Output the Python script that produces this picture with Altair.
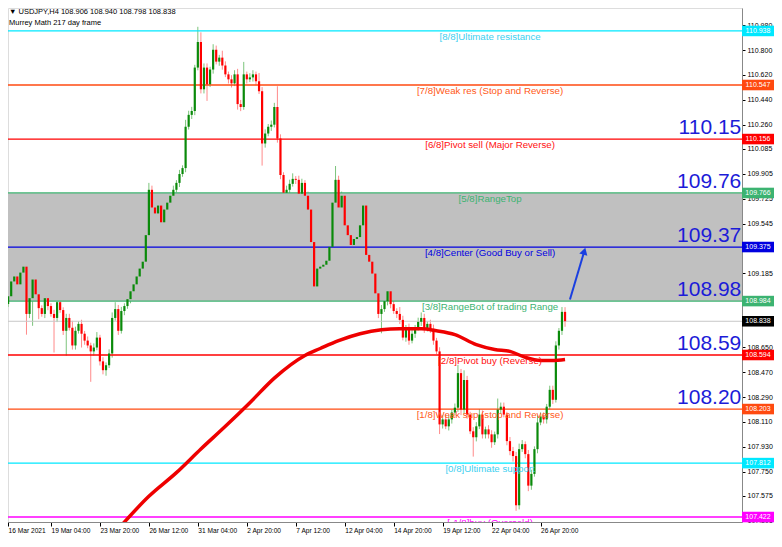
import altair as alt
import pandas as pd

# ---------------- data ----------------
first_open = 109.219
closes = [
    108.805,108.962,109.019,109.126,109.162,109.105,109.190,109.233,108.891,109.005,
    109.140,109.033,108.933,108.891,109.005,108.948,108.891,108.862,108.976,108.919,
    108.769,108.862,108.791,108.663,108.769,108.819,108.748,108.698,108.663,108.620,
    108.648,108.720,108.548,108.484,108.520,108.605,108.862,108.926,108.769,108.912,
    108.948,108.998,109.055,109.105,109.162,109.219,109.269,109.461,109.789,109.661,
    109.618,109.675,109.554,109.646,109.696,109.746,109.789,109.839,109.903,109.946,
    110.245,110.331,110.359,110.673,110.858,110.516,110.673,110.552,110.659,110.802,
    110.716,110.745,110.688,110.624,110.588,110.559,110.624,110.409,110.388,110.624,
    110.588,110.602,110.624,110.574,110.502,110.124,110.196,110.245,110.260,110.388,
    110.160,109.896,109.768,109.789,109.832,109.868,109.861,109.761,109.839,109.746,
    109.646,109.411,109.090,109.219,109.233,109.247,109.276,109.376,109.696,109.861,
    109.661,109.746,109.532,109.461,109.390,109.433,109.447,109.532,109.675,109.318,
    109.269,109.183,109.040,108.891,108.926,108.983,109.055,108.962,108.912,108.891,
    108.848,108.720,108.791,108.698,108.748,108.791,108.834,108.862,108.784,108.819,
    108.784,108.698,108.620,108.092,108.128,108.078,108.128,108.178,108.213,108.463,
    108.199,108.413,108.163,108.042,107.999,108.078,108.163,108.020,108.056,108.020,
    107.963,108.020,108.199,108.220,108.163,107.971,107.899,107.863,107.507,107.913,
    107.949,107.877,107.649,107.734,107.913,108.106,108.149,108.128,108.220,108.342,
    108.270,108.663,108.769,108.906,108.838,
]
up_wick = [
    0.03,0.02,0.03,0.03,0.02,0.04,0.03,0.09,0.03,0.03,
    0.03,0.14,0.03,0.02,0.04,0.03,0.02,0.03,0.04,0.03,
    0.02,0.03,0.03,0.05,0.03,0.02,0.03,0.02,0.03,0.02,
    0.03,0.04,0.02,0.03,0.02,0.03,0.04,0.05,0.03,0.03,
    0.02,0.03,0.02,0.03,0.02,0.03,0.03,0.02,0.05,0.03,
    0.02,0.03,0.03,0.02,0.03,0.02,0.03,0.02,0.03,0.02,
    0.05,0.03,0.03,0.02,0.11,0.07,0.03,0.03,0.02,0.04,
    0.03,0.02,0.05,0.03,0.02,0.03,0.03,0.04,0.03,0.09,
    0.02,0.03,0.03,0.02,0.06,0.03,0.03,0.02,0.03,0.03,
    0.15,0.03,0.02,0.03,0.03,0.04,0.02,0.03,0.03,0.02,
    0.03,0.02,0.03,0.03,0.02,0.03,0.02,0.03,0.03,0.10,
    0.03,0.03,0.02,0.04,0.03,0.02,0.03,0.03,0.07,0.03,
    0.02,0.03,0.02,0.03,0.03,0.02,0.04,0.03,0.03,0.02,
    0.05,0.03,0.02,0.03,0.03,0.02,0.03,0.04,0.03,0.02,
    0.03,0.03,0.02,0.03,0.03,0.04,0.03,0.02,0.03,0.06,
    0.03,0.07,0.03,0.02,0.03,0.03,0.04,0.03,0.02,0.03,
    0.03,0.02,0.08,0.03,0.03,0.02,0.03,0.03,0.03,0.04,
    0.03,0.02,0.03,0.03,0.02,0.05,0.03,0.03,0.02,0.03,
    0.03,0.03,0.02,0.035,0.034,
]
down_wick = [
    0.03,0.03,0.02,0.03,0.03,0.02,0.03,0.02,0.15,0.03,
    0.20,0.03,0.08,0.02,0.03,0.03,0.02,0.25,0.03,0.02,
    0.03,0.18,0.02,0.03,0.03,0.02,0.10,0.03,0.02,0.22,
    0.03,0.02,0.03,0.03,0.04,0.02,0.03,0.02,0.03,0.02,
    0.03,0.02,0.03,0.02,0.03,0.02,0.03,0.03,0.02,0.03,
    0.03,0.02,0.12,0.18,0.03,0.02,0.03,0.02,0.03,0.02,
    0.03,0.02,0.03,0.03,0.02,0.03,0.03,0.12,0.02,0.03,
    0.02,0.03,0.03,0.02,0.03,0.03,0.02,0.04,0.03,0.02,
    0.03,0.02,0.03,0.03,0.02,0.16,0.03,0.02,0.03,0.02,
    0.03,0.03,0.10,0.02,0.03,0.02,0.03,0.03,0.02,0.03,
    0.02,0.03,0.09,0.03,0.02,0.03,0.02,0.03,0.03,0.02,
    0.03,0.02,0.03,0.03,0.04,0.02,0.03,0.02,0.03,0.03,
    0.03,0.02,0.03,0.03,0.14,0.02,0.03,0.03,0.02,0.03,
    0.03,0.02,0.03,0.03,0.02,0.03,0.02,0.03,0.03,0.02,
    0.03,0.03,0.02,0.07,0.03,0.02,0.03,0.03,0.02,0.03,
    0.04,0.03,0.03,0.02,0.14,0.03,0.02,0.03,0.03,0.03,
    0.04,0.02,0.03,0.03,0.02,0.03,0.03,0.04,0.04,0.03,
    0.02,0.03,0.04,0.03,0.02,0.03,0.02,0.03,0.03,0.02,
    0.03,0.02,0.03,0.03,0.04,
]

ma_idx = [38, 48, 57, 65, 73, 81, 89, 99, 104, 110, 117, 124, 130, 137, 142, 148, 155, 161, 166, 171, 176, 180, 184]
ma_vals = [107.336, 107.572, 107.743, 107.914, 108.078, 108.249, 108.427, 108.591, 108.641, 108.698, 108.748,
           108.777, 108.784, 108.784, 108.769, 108.741, 108.669, 108.634, 108.620, 108.577, 108.555, 108.555, 108.562]

x_tick_idx = [2, 16, 32, 48, 64, 80, 96, 112, 128, 144, 160, 176]
x_tick_labels = ["16 Mar 2021", "19 Mar 04:00", "23 Mar 20:00", "26 Mar 12:00", "31 Mar 04:00", "2 Apr 20:00",
                 "7 Apr 12:00", "12 Apr 04:00", "14 Apr 20:00", "19 Apr 12:00", "22 Apr 04:00", "26 Apr 20:00"]

# tick labels visible on the price scale (those hidden under level tags are left out)
y_ticks = [110.980, 110.800, 110.620, 110.440, 110.260, 110.085, 109.905, 109.725, 109.545, 109.185,
           108.650, 108.470, 108.290, 108.110, 107.930, 107.750, 107.575, 107.395]

levels = [110.938, 110.547, 110.156, 109.766, 109.375, 108.984, 108.594, 108.203, 107.812, 107.422]
level_names = ["[8/8]Ultimate resistance", "[7/8]Weak res (Stop and Reverse)", "[6/8]Pivot sell (Major Reverse)",
               "[5/8]RangeTop", "[4/8]Center (Good Buy or Sell)", "[3/8]RangeBot of trading Range",
               "[2/8]Pivot buy (Reverse)", "[1/8]Weak sup (stop and Reverse)", "[0/8]Ultimate support",
               "[-1/8]buy (Oversold)"]
level_colors = ["#00e8ff", "#ff4a10", "#ff0000", "#3cb371", "#0000e0", "#3cb371", "#ff0000", "#ff4a10",
                "#00e8ff", "#ff00ff"]
level_text_colors = ["#40d0f0", "#ff5a20", "#ff1010", "#3cb371", "#0000e0", "#3cb371", "#ff1010", "#ff5a20",
                     "#40d0f0", "#ff00ff"]

big_levels = [110.156, 109.766, 109.375, 108.984, 108.594, 108.203]
big_labels = ["110.15", "109.76", "109.37", "108.98", "108.59", "108.20"]

box_prices = [110.938, 110.547, 110.156, 109.766, 109.375, 108.984, 108.838, 108.594, 108.203, 107.812, 107.422]
box_colors = ["#00e8ff", "#ff4a10", "#ff0000", "#3cb371", "#0000e0", "#3cb371", "#000000", "#ff0000", "#ff4a10",
              "#00e8ff", "#ff00ff"]

band_low, band_high = 108.984, 109.766
current_price = 108.838
arrow_start = (185.6, 108.995)
arrow_end = (190.3, 109.345)

title_line1 = "\u25bc USDJPY,H4  108.906 108.940 108.798 108.838"
title_line2 = "Murrey Math 217 day frame"

# ---------------- tables ----------------
rows = []
prev = first_open
for i, c in enumerate(closes):
    o = prev
    hi = max(o, c) + up_wick[i]
    lo = min(o, c) - down_wick[i]
    rows.append({"i": i, "open": o, "close": c, "high": hi, "low": lo,
                 "col": "#0a8a0a" if c >= o else "#ff0000",
                 "wcol": "#7cc47c" if c >= o else "#ff8a8a"})
    prev = c
candles = pd.DataFrame(rows)
ma = pd.DataFrame({"i": ma_idx, "v": ma_vals})
lv = pd.DataFrame({"p": levels, "name": level_names, "col": level_colors, "tcol": level_text_colors,
                   "x": [159.5] * len(levels)})
big = pd.DataFrame({"p": big_levels, "t": big_labels, "x": [241.6] * len(big_levels)})
boxes = pd.DataFrame({"p": box_prices, "col": box_colors, "t": [f"{v:.3f}" for v in box_prices]})
band = pd.DataFrame({"lo": [band_low], "hi": [band_high]})
cur = pd.DataFrame({"p": [current_price]})
arrow = pd.DataFrame({"x": [arrow_start[0]], "y": [arrow_start[1]], "x2": [arrow_end[0]], "y2": [arrow_end[1]]})
head = pd.DataFrame({"x": [arrow_end[0]], "y": [arrow_end[1]]})
one = pd.DataFrame({"k": [0]})

W, H = 734, 514
xs = alt.Scale(domain=[1.96, 241.83], nice=False, zero=False)
ys = alt.Scale(domain=[107.386, 111.104], nice=False, zero=False)
FONT = "Liberation Sans"

label_expr = " : ".join(f"datum.value == {v} ? '{l}'" for v, l in zip(x_tick_idx, x_tick_labels)) + " : ''"

x_axis = alt.Axis(values=x_tick_idx, labelExpr=label_expr, labelAlign="left", labelFontSize=6.6,
                  labelFont=FONT, labelColor="#000", tickSize=4, tickColor="#000", domainColor="#888",
                  labelPadding=1, grid=False, title=None, labelOverlap=False, labelFlush=False)
y_axis = alt.Axis(orient="right", values=y_ticks, format=".3f", labelFontSize=7, labelFont=FONT,
                  labelColor="#000", tickSize=3, tickColor="#000", domainColor="#888", labelPadding=2,
                  grid=False, title=None, labelOverlap=False, labelFlush=False)


def X(field):
    return alt.X(field, scale=xs, axis=x_axis)


def Y(field):
    return alt.Y(field, scale=ys, axis=y_axis)


wick_l = alt.Chart(candles).mark_rule(strokeWidth=1, clip=True).encode(
    x=X("i:Q"), y=Y("low:Q"), y2="high:Q", color=alt.Color("wcol:N", scale=None))

band_l = alt.Chart(band).mark_rect(color="#c0c0c0").encode(
    x=alt.value(0), x2=alt.value(W), y=Y("lo:Q"), y2="hi:Q")

level_l = alt.Chart(lv).mark_rule(strokeWidth=1.3).encode(
    y=Y("p:Q"), color=alt.Color("col:N", scale=None))

cur_l = alt.Chart(cur).mark_rule(strokeWidth=1, color="#c8c8c8").encode(y=Y("p:Q"))

body_l = alt.Chart(candles).mark_rule(strokeWidth=2.2, clip=True).encode(
    x=X("i:Q"), y=Y("open:Q"), y2="close:Q", color=alt.Color("col:N", scale=None))

ma_l = alt.Chart(ma).mark_line(color="#ee0000", strokeWidth=3.5, interpolate="monotone", clip=True).encode(
    x=X("i:Q"), y=Y("v:Q"))

lvtext_l = alt.Chart(lv).mark_text(fontSize=9.7, font=FONT, baseline="top", dy=1, align="center",
                                   clip=True).encode(
    x=X("x:Q"), y=Y("p:Q"), text="name:N", color=alt.Color("tcol:N", scale=None))

big_l = alt.Chart(big).mark_text(fontSize=21, font=FONT, baseline="bottom", dy=-1, align="right",
                                 color="#1c1cd8").encode(x=X("x:Q"), y=Y("p:Q"), text="t:N")

arrow_l = alt.Chart(arrow).mark_rule(strokeWidth=2, color="#1a3fe0").encode(
    x=X("x:Q"), y=Y("y:Q"), x2="x2:Q", y2="y2:Q")
head_l = alt.Chart(head).mark_point(shape="triangle-up", filled=True, size=70, angle=16, color="#1a3fe0",
                                    opacity=1).encode(x=X("x:Q"), y=Y("y:Q"))

box_l = alt.Chart(boxes).mark_point(shape="M -1 -0.33 L 1 -0.33 L 1 0.33 L -1 0.33 Z", size=1024, filled=True,
                                    opacity=1, strokeWidth=0, clip=False).encode(
    x=alt.value(W + 16), y=Y("p:Q"), color=alt.Color("col:N", scale=None))
boxt_l = alt.Chart(boxes).mark_text(fontSize=7, font=FONT, color="white", align="center",
                                    baseline="middle").encode(
    x=alt.value(W + 16), y=Y("p:Q"), text="t:N")

t1_l = alt.Chart(one).mark_text(fontSize=7.5, font=FONT, color="#000", align="left", baseline="top",
                                text=title_line1).encode(x=alt.value(1), y=alt.value(0))
t2_l = alt.Chart(one).mark_text(fontSize=7.5, font=FONT, color="#000", align="left", baseline="top",
                                text=title_line2).encode(x=alt.value(1), y=alt.value(11))

chart = alt.layer(wick_l, band_l, level_l, cur_l, body_l, ma_l, lvtext_l, big_l, arrow_l, head_l,
                  box_l, boxt_l, t1_l, t2_l).properties(
    width=W, height=H,
    autosize=alt.AutoSizeParams(type="none"),
    padding={"left": 0, "top": 0, "right": 32, "bottom": 17}
).configure_view(stroke="#999", strokeWidth=1).configure(background="white")

chart.save("out.html", embed_options={"renderer": "svg", "actions": False})
